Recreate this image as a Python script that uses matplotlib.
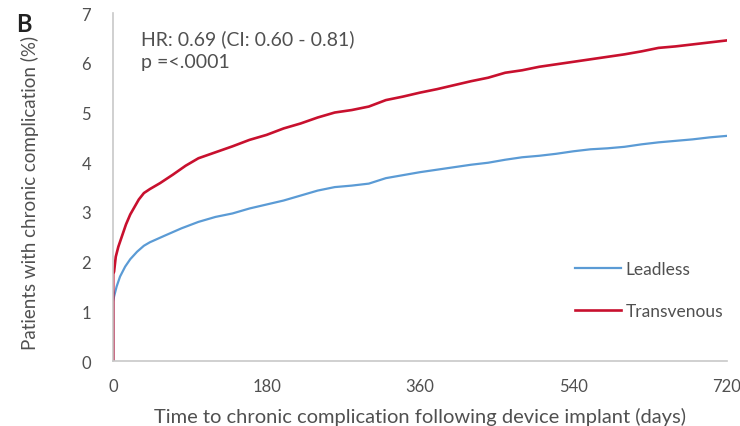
import numpy as np
import matplotlib.pyplot as plt

# Kaplan-Meier style cumulative incidence
red_days = [0, 0, 1, 3, 6, 10, 15, 20, 25, 30, 36, 43, 55, 70, 85, 100, 120, 140, 160,
            180, 200, 220, 240, 260, 280, 300, 320, 340, 360, 380, 400, 420, 440,
            460, 480, 500, 520, 540, 560, 580, 600, 620, 640, 660, 680, 700, 720]
red_pct = [0, 1.75, 1.8, 2.1, 2.3, 2.5, 2.75, 2.95, 3.1, 3.25, 3.38, 3.46, 3.58, 3.75,
           3.93, 4.08, 4.2, 4.32, 4.45, 4.55, 4.68, 4.78, 4.9, 5.0, 5.05, 5.12, 5.25,
           5.32, 5.4, 5.47, 5.55, 5.63, 5.7, 5.8, 5.85, 5.92, 5.97, 6.02, 6.07, 6.12,
           6.17, 6.23, 6.3, 6.33, 6.37, 6.41, 6.45]

blue_days = [0, 0, 1, 4, 8, 14, 20, 28, 36, 43, 60, 80, 100, 120, 140, 160, 180, 200,
             220, 240, 260, 280, 300, 320, 340, 360, 380, 400, 420, 440, 460, 480,
             500, 520, 540, 560, 580, 600, 620, 640, 660, 680, 700, 720]
blue_pct = [0, 1.2, 1.3, 1.5, 1.7, 1.9, 2.05, 2.2, 2.32, 2.39, 2.52, 2.67, 2.8, 2.9,
            2.97, 3.07, 3.15, 3.23, 3.33, 3.43, 3.5, 3.53, 3.57, 3.68, 3.74, 3.8, 3.85,
            3.9, 3.95, 3.99, 4.05, 4.1, 4.13, 4.17, 4.22, 4.26, 4.28, 4.31, 4.36, 4.4,
            4.43, 4.46, 4.5, 4.53]

x_ticks = [0, 180, 360, 540, 720]
y_ticks = [0, 1, 2, 3, 4, 5, 6, 7]

BLUE = '#5b9bd5'
RED = '#c8102e'
GREY = '#505050'

plt.rcParams['font.family'] = ['Lato', 'DejaVu Sans']

fig = plt.figure(figsize=(7.4, 4.27), dpi=100)
ax = fig.add_axes([0.153, 0.152, 0.829, 0.815])

ax.plot(blue_days, blue_pct, color=BLUE, lw=1.6, label='Leadless')
ax.plot(red_days, red_pct, color=RED, lw=1.9, label='Transvenous')

ax.set_xlim(0, 720)
ax.set_ylim(0, 7)
ax.set_xticks(x_ticks)
ax.set_yticks(y_ticks)
ax.tick_params(length=0, labelsize=12, colors=GREY)
ax.tick_params(axis='y', pad=16)
ax.tick_params(axis='x', pad=12)

for side in ['top', 'right']:
    ax.spines[side].set_visible(False)
for side in ['left', 'bottom']:
    ax.spines[side].set_color('#c8c8c8')
    ax.spines[side].set_linewidth(1.2)

ax.set_xlabel('Time to chronic complication following device implant (days)',
              fontsize=14.5, color=GREY, va='center')
ax.set_ylabel('Patients with chronic complication (%)', fontsize=13.5, color=GREY,
              va='center')
ax.xaxis.set_label_coords(0.5, -0.158)
ax.yaxis.set_label_coords(-0.135, 0.485)

ax.text(0.045, 0.955, 'HR: 0.69 (CI: 0.60 - 0.81)', transform=ax.transAxes,
        fontsize=14, color=GREY, va='top')
ax.text(0.045, 0.885, 'p =<.0001', transform=ax.transAxes,
        fontsize=14, color=GREY, va='top')
fig.text(0.022, 0.925, 'B', fontsize=17, fontweight='bold', color='#222222')

leg = ax.legend(loc='center left', bbox_to_anchor=(0.752, 0.203), frameon=False,
                borderpad=0, borderaxespad=0,
                fontsize=12.5, handlelength=2.65, handletextpad=0.3, labelspacing=1.5)
for t in leg.get_texts():
    t.set_color(GREY)

fig.savefig('out.png', dpi=100)
